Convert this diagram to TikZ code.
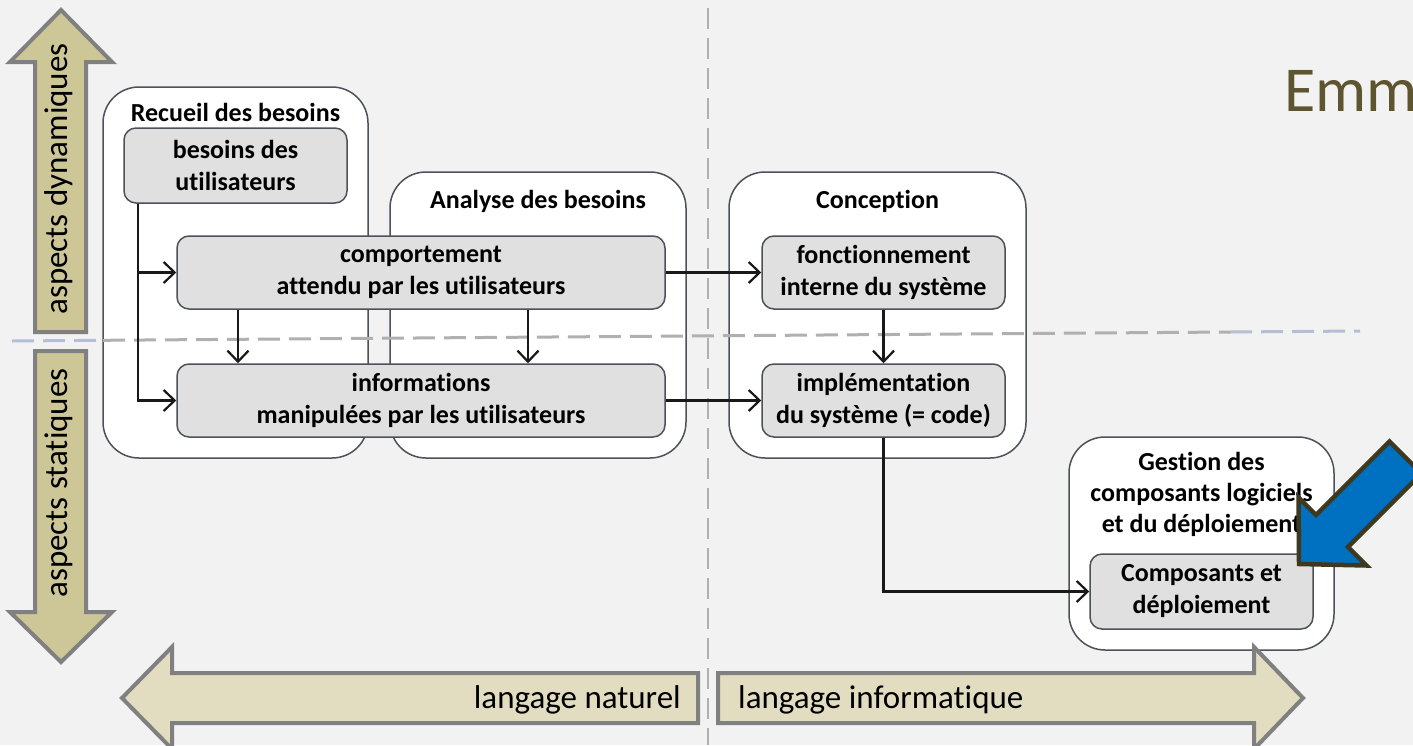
\documentclass[tikz,border=0pt]{standalone}
\usepackage{fontspec}
\setmainfont{Carlito}[Ligatures=NoCommon]
\usepackage{xcolor}
\usetikzlibrary{
    arrows.meta,
    calc,
    positioning
}
\definecolor{bggrey}{HTML}{F2F2F2}
\definecolor{boxline}{HTML}{4D515A}
\definecolor{boxfill}{HTML}{E0E0E0}
\definecolor{khakidark}{HTML}{CDC696}
\definecolor{khakilight}{HTML}{E2DDC1}
\definecolor{arrowgrey}{HTML}{808080}
\definecolor{dashgrey}{HTML}{B0B0B0}
\definecolor{dashblue}{HTML}{B4BED4}
\definecolor{bluearrow}{HTML}{0070C0}
\definecolor{bluerim}{HTML}{3D3820}
\definecolor{titlecol}{HTML}{5D552F}

\begin{document}
\begin{tikzpicture}[x=1pt, y=-1pt,
    phase/.style={draw=boxline, fill=white, line width=1.5pt, rounded corners=36pt},
    step box/.style={draw=boxline, fill=boxfill, line width=1.5pt, rounded corners=12pt,
        align=center, font=\bfseries\fontsize{26}{32}\selectfont, inner sep=0pt},
    ttl/.style={font=\bfseries\fontsize{26}{31}\selectfont, align=center, inner sep=0pt},
    flow/.style={line width=2.2pt, draw=black!90, -{Straight Barb[length=11pt, width=21pt]}},
    wide/.style={draw=arrowgrey, line width=4pt, line join=miter},
    axis text/.style={font=\fontsize{33}{38}\selectfont, inner sep=0pt}]
\useasboundingbox (0,0) rectangle (1413,745);
\clip (0,0) rectangle (1413,745);
\fill[bggrey] (0,0) rectangle (1413,745);

\draw[dashgrey, line width=2.5pt, dash pattern=on 21pt off 9pt] (708,8) -- (708,745);

\node[titlecol, anchor=base west, font=\fontsize{64}{70}\selectfont, inner sep=0pt] (emm) at (1284,111) {Emm};

\node[phase, minimum width=265pt, minimum height=371pt] (rb) at (235.5,272.5) {};
\node[phase, minimum width=296pt, minimum height=286pt] (ab) at (538,315) {};
\node[phase, minimum width=297pt, minimum height=286pt] (cb) at (877.5,315) {};
\node[phase, minimum width=265pt, minimum height=213pt] (gb) at (1201.5,543.5) {};

\node[ttl, anchor=base] (rt) at ($(rb.north)+(0,35)$) {Recueil des besoins};
\node[ttl, anchor=base] (at) at ($(ab.north)+(0,37)$) {Analyse des besoins};
\node[ttl, anchor=base] (ct) at ($(cb.north)+(0,37)$) {Conception};
\node[ttl] (gt) at (1201.5,494) {Gestion des\\composants logiciels\\et du déploiement};

\draw[dashblue, line width=3pt, dash pattern=on 22pt off 9pt] (12,341) -- (103,340.3);
\draw[dashgrey, line width=3pt, dash pattern=on 22pt off 9pt] (103,340.3) -- (1230,332);
\draw[dashblue, line width=3pt, dash pattern=on 22pt off 9pt] (1230,332) -- (1360,331);

\node[step box, minimum width=223pt, minimum height=75pt] (bu) at (235.5,165.5) {besoins des\\utilisateurs};
\node[step box, minimum width=488pt, minimum height=73pt] (ca) at (421,272.5) {comportement\\attendu par les utilisateurs};
\node[step box, minimum width=488pt, minimum height=73pt] (im) at (421,400.5) {informations\\manipulées par les utilisateurs};
\node[step box, minimum width=243pt, minimum height=73pt] (fi) at (883.5,272.5) {fonctionnement\\interne du système};
\node[step box, minimum width=243pt, minimum height=73pt] (is) at (883.5,400.5) {implémentation\\du système (= code)};
\node[step box, minimum width=223pt, minimum height=75pt] (cd) at (1201.5,591.5) {Composants et\\déploiement};

\coordinate (k1) at (138,0);
\coordinate (k2) at (238,0);
\coordinate (k3) at (528,0);
\draw[flow] (bu.south -| k1) |- (ca.west);
\draw[flow] (bu.south -| k1) |- (im.west);
\draw[flow] (ca.south -| k2) -- (im.north -| k2);
\draw[flow] (ca.south -| k3) -- (im.north -| k3);
\draw[flow] (ca.east) -- (fi.west);
\draw[flow] (im.east) -- (is.west);
\draw[flow] (fi.south) -- (is.north);
\draw[flow] (is.south) |- (cd.west);

\draw[wide, fill=khakidark] (61,10) -- (112,62) -- (86,62) -- (86,332) -- (35,332) -- (35,62) -- (10,62) -- cycle;
\draw[wide, fill=khakidark] (35,351) -- (86,351) -- (86,612) -- (112,612) -- (61,662) -- (10,612) -- (35,612) -- cycle;
\node[axis text, rotate=90, anchor=base] (dyn) at (67,179) {aspects dynamiques};
\node[axis text, rotate=90, anchor=base] (sta) at (67,483) {aspects statiques};

\draw[wide, fill=khakilight] (122,698) -- (172,647) -- (172,673) -- (698,673) -- (698,723) -- (172,723) -- (172,749) -- cycle;
\draw[wide, fill=khakilight] (1303,698) -- (1254,647) -- (1254,673) -- (718,673) -- (718,723) -- (1254,723) -- (1254,749) -- cycle;
\node[axis text, anchor=base east] (nat) at (681,708) {langage naturel};
\node[axis text, anchor=base west] (inf) at (738,708) {langage informatique};

\draw[bluerim, fill=bluearrow, line width=4.5pt, line join=miter] (1299,564) -- (1298.5,497.5) -- (1316,515) -- (1389.5,441.5) -- (1421.5,473.5) -- (1348,547) -- (1366.5,565.5) -- cycle;
\end{tikzpicture}
\end{document}
